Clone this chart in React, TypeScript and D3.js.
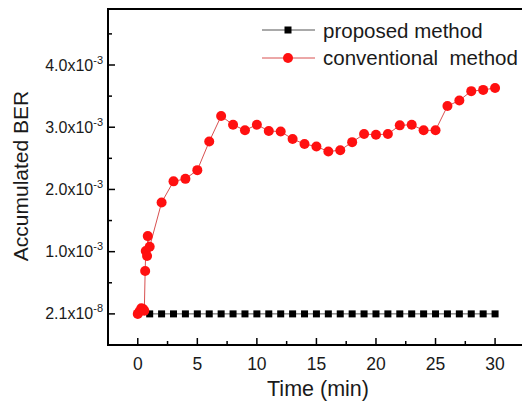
import React from "react";
import * as d3 from "d3";

const proposedTime: number[] = [1,2,3,4,5,6,7,8,9,10,11,12,13,14,15,16,17,18,19,20,21,22,23,24,25,26,27,28,29,30];
const proposedBER: number[] = proposedTime.map(() => 2.1e-8);

const conventionalTime: number[] = [0, 0.15, 0.3, 0.45, 0.55, 0.62, 0.67, 0.78, 0.84, 1.0, 2, 3, 4, 5, 6, 7, 8, 9, 10, 11, 12, 13, 14, 15, 16, 17, 18, 19, 20, 21, 22, 23, 24, 25, 26, 27, 28, 29, 30];
const conventionalBER: number[] = [0, 0.04e-3, 0.09e-3, 0.08e-3, 0.05e-3, 0.69e-3, 1.01e-3, 0.93e-3, 1.25e-3, 1.08e-3, 1.79e-3, 2.13e-3, 2.17e-3, 2.31e-3, 2.77e-3, 3.18e-3, 3.04e-3, 2.95e-3, 3.04e-3, 2.94e-3, 2.93e-3, 2.81e-3, 2.73e-3, 2.69e-3, 2.61e-3, 2.63e-3, 2.76e-3, 2.89e-3, 2.88e-3, 2.89e-3, 3.03e-3, 3.04e-3, 2.95e-3, 2.95e-3, 3.34e-3, 3.43e-3, 3.58e-3, 3.6e-3, 3.63e-3];

const xTicks: number[] = [0, 5, 10, 15, 20, 25, 30];
const xMinorTicks: number[] = [2.5, 7.5, 12.5, 17.5, 22.5, 27.5];
const yTicks: number[] = [0, 1e-3, 2e-3, 3e-3, 4e-3];
const yTickMantissa: string[] = ["2.1", "1.0", "2.0", "3.0", "4.0"];
const yTickExponent: string[] = ["-8", "-3", "-3", "-3", "-3"];
const yMinorTicks: number[] = [0.5e-3, 1.5e-3, 2.5e-3, 3.5e-3, 4.5e-3];

const W = 522;
const H = 403;
const left = 108;
const top = 9;
const bottom = 345;

const FONT = "'Liberation Sans', Arial, sans-serif";

export default function App() {
  const x = d3.scaleLinear().domain([-2.5, 32.5]).range([left, left + 35 * 11.91]);
  const y = d3.scaleLinear().domain([-0.5e-3, 4.9e-3]).range([bottom, top]);

  const line = d3.line<[number, number]>().x((d) => x(d[0])).y((d) => y(d[1]));
  const propPts: [number, number][] = proposedTime.map((t, i) => [t, proposedBER[i]]);
  const convPts: [number, number][] = conventionalTime.map((t, i) => [t, conventionalBER[i]]);

  const red = "#ff1010";
  const redLine = "#d85050";
  const sq = 7;
  const txt = "#1a1a1a";

  return (
    <svg width={W} height={H} style={{ position: "absolute", left: 0, top: 0 }} fontFamily={FONT}>
      <rect x={0} y={0} width={W} height={H} fill="#fff" />
      {/* frame */}
      <line x1={left} y1={top} x2={W + 5} y2={top} stroke="#000" strokeWidth={2} />
      <line x1={left} y1={top - 1} x2={left} y2={bottom + 1} stroke="#000" strokeWidth={2} />
      <line x1={left - 1} y1={bottom} x2={W + 5} y2={bottom} stroke="#000" strokeWidth={2} />

      {/* x ticks */}
      {xTicks.map((t) => (
        <g key={"xt" + t}>
          <line x1={x(t)} x2={x(t)} y1={bottom} y2={bottom - 7} stroke="#000" strokeWidth={1.5} />
          <text x={x(t)} y={369.5} textAnchor="middle" fontSize={17.5} fill={txt}>{t}</text>
        </g>
      ))}
      {xMinorTicks.map((t) => (
        <line key={"xm" + t} x1={x(t)} x2={x(t)} y1={bottom} y2={bottom - 4} stroke="#000" strokeWidth={1.5} />
      ))}

      {/* y ticks */}
      {yTicks.map((v, i) => (
        <g key={"yt" + i}>
          <line x1={left} x2={left + 7} y1={y(v)} y2={y(v)} stroke="#000" strokeWidth={1.5} />
          <text x={103} y={y(v) + 5.5} textAnchor="end" fontSize={16} fill={txt}>
            {yTickMantissa[i] + "x10"}
            <tspan fontSize={11} dy={-7}>{yTickExponent[i]}</tspan>
          </text>
        </g>
      ))}
      {yMinorTicks.map((v, i) => (
        <line key={"ym" + i} x1={left} x2={left + 4} y1={y(v)} y2={y(v)} stroke="#000" strokeWidth={1.5} />
      ))}

      {/* axis titles */}
      <text transform={`translate(28,176) rotate(-90)`} textAnchor="middle" fontSize={21} fill={txt}>Accumulated BER</text>
      <text x={318} y={396} textAnchor="middle" fontSize={21.5} fill={txt}>Time (min)</text>

      {/* proposed series */}
      <path d={line(propPts) || ""} fill="none" stroke="#555" strokeWidth={1} />
      {propPts.map((p, i) => (
        <rect key={"p" + i} x={x(p[0]) - sq / 2} y={y(p[1]) - sq / 2} width={sq} height={sq} fill="#000" />
      ))}

      {/* conventional series */}
      <path d={line(convPts) || ""} fill="none" stroke={redLine} strokeWidth={1} />
      {convPts.map((p, i) => (
        <circle key={"c" + i} cx={x(p[0])} cy={y(p[1])} r={5} fill={red} />
      ))}

      {/* legend */}
      <line x1={262} x2={315} y1={30} y2={30} stroke="#555" strokeWidth={1} />
      <rect x={288 - sq / 2} y={30 - sq / 2} width={sq} height={sq} fill="#000" />
      <text x={323} y={37.5} fontSize={20.5} fill={txt}>proposed method</text>
      <line x1={262} x2={315} y1={58} y2={58} stroke={redLine} strokeWidth={1} />
      <circle cx={288} cy={58} r={5} fill={red} />
      <text x={323} y={64.5} fontSize={20.5} fill={txt} style={{ whiteSpace: "pre" }}>{"conventional  method"}</text>
    </svg>
  );
}
